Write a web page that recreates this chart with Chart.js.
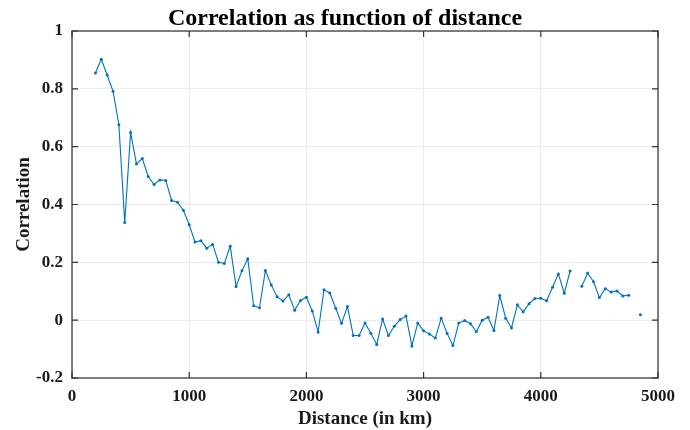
<!DOCTYPE html>
<html>
<head>
<meta charset="utf-8">
<script src="https://cdn.jsdelivr.net/npm/chart.js@4/dist/chart.umd.min.js"></script>
<style>
  html, body { margin: 0; padding: 0; background: #ffffff; }
  #wrap { width: 690px; height: 430px; }
</style>
</head>
<body>
<div id="wrap"><canvas id="c" width="690" height="430"></canvas></div>
<script>
const distances = [
  200, 250, 300, 350, 400, 450, 500, 550, 600, 650,
  700, 750, 800, 850, 900, 950, 1000, 1050, 1100, 1150,
  1200, 1250, 1300, 1350, 1400, 1450, 1500, 1550, 1600, 1650,
  1700, 1750, 1800, 1850, 1900, 1950, 2000, 2050, 2100, 2150,
  2200, 2250, 2300, 2350, 2400, 2450, 2500, 2550, 2600, 2650,
  2700, 2750, 2800, 2850, 2900, 2950, 3000, 3050, 3100, 3150,
  3200, 3250, 3300, 3350, 3400, 3450, 3500, 3550, 3600, 3650,
  3700, 3750, 3800, 3850, 3900, 3950, 4000, 4050, 4100, 4150,
  4200, 4250, 4300, 4350, 4400, 4450, 4500, 4550, 4600, 4650,
  4700, 4750, 4800, 4850
];
const correlation = [
  0.855, 0.902, 0.848, 0.792, 0.676, 0.338, 0.649, 0.540, 0.559, 0.497,
  0.469, 0.485, 0.483, 0.414, 0.408, 0.380, 0.330, 0.270, 0.275, 0.249,
  0.262, 0.200, 0.196, 0.256, 0.116, 0.171, 0.212, 0.050, 0.043, 0.172,
  0.122, 0.081, 0.066, 0.088, 0.034, 0.068, 0.079, 0.032, -0.041, 0.105,
  0.094, 0.041, -0.011, 0.047, -0.053, -0.053, -0.010, -0.045, -0.084, 0.004,
  -0.053, -0.021, 0.002, 0.014, -0.089, -0.010, -0.037, -0.048, -0.062, 0.007,
  -0.045, -0.088, -0.010, -0.001, -0.012, -0.040, 0.000, 0.010, -0.036, 0.085,
  0.007, -0.027, 0.053, 0.029, 0.057, 0.075, 0.076, 0.067, 0.114, 0.160,
  0.093, 0.170, null, 0.117, 0.163, 0.133, 0.078, 0.109, 0.097, 0.101,
  0.084, 0.086, null, 0.019
];
const xTicks = [0, 1000, 2000, 3000, 4000, 5000];
const xTickLabels = ['0', '1000', '2000', '3000', '4000', '5000'];
const yTicks = [-0.2, 0, 0.2, 0.4, 0.6, 0.8, 1];
const yTickLabels = ['-0.2', '0', '0.2', '0.4', '0.6', '0.8', '1'];
const titleText = 'Correlation as function of distance';
const xTitle = 'Distance (in km)';
const yTitle = 'Correlation';

const points = distances.map((d, i) => ({ x: d, y: correlation[i] }));
const serif = '"Liberation Serif", "Times New Roman", serif';

const framePlugin = {
  id: 'frame',
  afterDraw(chart) {
    const { ctx, chartArea: a, scales } = chart;
    const xs = scales.x, ys = scales.y;
    ctx.save();
    ctx.strokeStyle = '#555555';
    ctx.lineWidth = 1.5;
    ctx.strokeRect(a.left, a.top, a.right - a.left, a.bottom - a.top);
    const tl = 6;
    ctx.strokeStyle = '#333333';
    ctx.lineWidth = 1.2;
    ctx.beginPath();
    xTicks.forEach(v => {
      const px = xs.getPixelForValue(v);
      ctx.moveTo(px, a.bottom); ctx.lineTo(px, a.bottom - tl);
      ctx.moveTo(px, a.top); ctx.lineTo(px, a.top + tl);
    });
    yTicks.forEach(v => {
      const py = ys.getPixelForValue(v);
      ctx.moveTo(a.left, py); ctx.lineTo(a.left + tl, py);
      ctx.moveTo(a.right, py); ctx.lineTo(a.right - tl, py);
    });
    ctx.stroke();
    ctx.restore();
  }
};

new Chart(document.getElementById('c'), {
  type: 'line',
  data: {
    datasets: [{
      data: points,
      yAxisID: 'y',
      borderColor: '#0072BD',
      backgroundColor: '#0072BD',
      borderWidth: 1.1,
      pointRadius: 1.5,
      pointHoverRadius: 1.5,
      pointBorderWidth: 0,
      spanGaps: false,
      tension: 0
    }]
  },
  options: {
    responsive: false,
    animation: false,
    devicePixelRatio: 1,
    layout: { padding: 0 },
    plugins: {
      legend: { display: false },
      tooltip: { enabled: false },
      title: {
        display: true,
        text: titleText,
        color: '#000000',
        font: { family: serif, size: 24, weight: 'bold', lineHeight: 1.0 },
        padding: { top: 7, bottom: 0 }
      }
    },
    scales: {
      x: {
        type: 'linear',
        min: 0, max: 5000,
        afterBuildTicks: s => { s.ticks = xTicks.map(v => ({ value: v })); },
        afterFit: s => { s.height = 52; },
        grid: { color: '#ebebeb', lineWidth: 1, drawTicks: false },
        border: { display: false },
        ticks: {
          color: '#1a1a1a',
          font: { family: serif, size: 17, weight: 'bold' },
          padding: 8,
          maxRotation: 0,
          callback: (v) => xTickLabels[xTicks.indexOf(v)]
        },
        title: {
          display: true, text: xTitle, color: '#1a1a1a',
          font: { family: serif, size: 19, weight: 'bold' },
          padding: { top: 0, bottom: 0 }
        }
      },
      y: {
        type: 'linear',
        position: 'left',
        min: -0.2, max: 1,
        afterBuildTicks: s => { s.ticks = yTicks.map(v => ({ value: v })); },
        afterFit: s => { s.width = 72; },
        grid: { color: '#ebebeb', lineWidth: 1, drawTicks: false },
        border: { display: false },
        ticks: {
          color: '#1a1a1a',
          font: { family: serif, size: 17, weight: 'bold' },
          padding: 9,
          callback: (v) => {
            const i = yTicks.findIndex(t => Math.abs(t - v) < 1e-9);
            return i >= 0 ? yTickLabels[i] : '';
          }
        },
        title: {
          display: true, text: yTitle, color: '#1a1a1a',
          font: { family: serif, size: 19, weight: 'bold' },
          padding: { top: 13, bottom: 13 }
        }
      },
      yRight: {
        type: 'linear',
        position: 'right',
        min: -0.2, max: 1,
        afterFit: s => { s.width = 32; },
        grid: { display: false },
        border: { display: false },
        ticks: { display: false }
      }
    }
  },
  plugins: [framePlugin]
});
</script>
</body>
</html>
